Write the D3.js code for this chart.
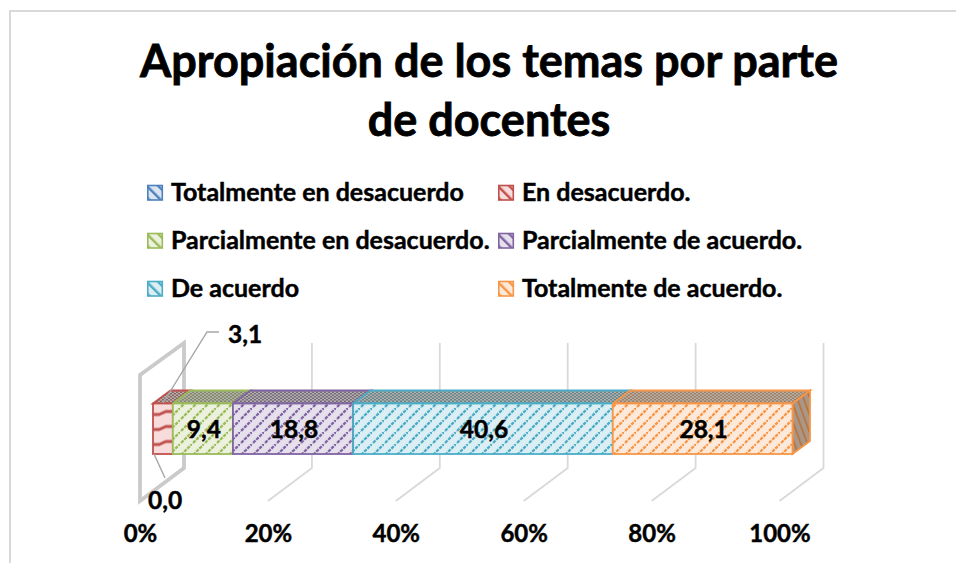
<!DOCTYPE html>
<html><head><meta charset="utf-8">
<script src="https://cdn.jsdelivr.net/npm/d3@7"></script>
<style>html,body{margin:0;padding:0;background:#fff}svg{display:block}text{font-family:Lato,sans-serif;font-weight:700;fill:#000;stroke:#000;stroke-width:.45px}</style>
</head><body><div id="c"></div>
<script>
const titleLines = ["Apropiación de los temas por parte", "de docentes"];
const categories = ["Totalmente en desacuerdo","En desacuerdo.","Parcialmente en desacuerdo.","Parcialmente de acuerdo.","De acuerdo","Totalmente de acuerdo."];
const values = [0.0, 3.1, 9.4, 18.8, 40.6, 28.1];
const labels = ["0,0","3,1","9,4","18,8","40,6","28,1"];
const colors = ["#4f81bd","#c0504d","#9bbb59","#8064a2","#4bacc6","#f79646"];
const lights = ["#dbe5f1","#f7dcdb","#ebf1dd","#e5e0ec","#dbeef4","#fde9d9"];
const ticks = [0,20,40,60,80,100];

const W=956,H=563;
const svg=d3.select("#c").append("svg").attr("width",W).attr("height",H);
const defs=svg.append("defs");
const x=d3.scaleLinear().domain([0,100]).range([153,792.5]);
const dx=17.5,dy=-13, floorDx=-13, wallDx=31;
const y0=403.5,y1=454;

colors.forEach((c,i)=>{
  const p=defs.append("pattern").attr("id","d"+i).attr("width",8).attr("height",8).attr("patternUnits","userSpaceOnUse").attr("patternTransform","rotate(-45)");
  p.append("rect").attr("width",8).attr("height",8).attr("fill",lights[i]);
  p.append("rect").attr("x",3).attr("width",2.4).attr("height",8).attr("fill",c);
  const mid=d3.interpolateRgb(c,"#6f6f6f")(0.65);
  const t=defs.append("pattern").attr("id","t"+i).attr("width",4).attr("height",3).attr("patternUnits","userSpaceOnUse");
  t.append("rect").attr("width",4).attr("height",3).attr("fill",mid);
  t.append("rect").attr("width",2).attr("height",1.5).attr("fill","#b5b1aa");
  t.append("rect").attr("x",2).attr("y",1.5).attr("width",2).attr("height",1.5).attr("fill","#b5b1aa");
  const s=defs.append("pattern").attr("id","s"+i).attr("width",6).attr("height",6).attr("patternUnits","userSpaceOnUse").attr("patternTransform","rotate(-20)");
  s.append("rect").attr("width",6).attr("height",6).attr("fill","#a9978a");
  s.append("rect").attr("width",1.6).attr("height",6).attr("fill",d3.color(c).darker(0.8));
  const l=defs.append("pattern").attr("id","l"+i).attr("width",12).attr("height",12).attr("patternUnits","userSpaceOnUse");
  l.append("rect").attr("width",12).attr("height",12).attr("fill",lights[i]);
  l.append("path").attr("d","M-2 14L14 -2").attr("stroke",c).attr("stroke-width",2.3).attr("stroke-dasharray","3.4 1");
});
const w=defs.append("pattern").attr("id","wave").attr("width",20).attr("height",15).attr("patternUnits","userSpaceOnUse").attr("x",153).attr("y",y0+2);
w.append("rect").attr("width",20).attr("height",15).attr("fill",lights[1]);
w.append("path").attr("d","M0 9H6L13 6H20").attr("fill","none").attr("stroke",colors[1]).attr("stroke-width",2.8);

svg.append("path").attr("d",`M10 ${H}V11H${W}`).attr("fill","none").attr("stroke","#d9d9d9").attr("stroke-width",2);

svg.append("g").selectAll("text").data(titleLines).join("text")
  .attr("x",489).attr("y",(d,i)=>77+i*59).attr("text-anchor","middle").attr("font-size",45).style("stroke-width","0.8px").text(d=>d);

const lx=[147,498], ly=[192,240,288];
const lg=svg.append("g").selectAll("g").data(categories).join("g")
  .attr("transform",(d,i)=>`translate(${lx[i%2]},${ly[Math.floor(i/2)]})`);
lg.append("rect").attr("x",0.8).attr("y",-6.5).attr("width",14.5).attr("height",14.5)
  .attr("fill",(d,i)=>`url(#d${i})`).attr("stroke",(d,i)=>colors[i]).attr("stroke-width",1.6);
lg.append("text").attr("x",24).attr("y",9).attr("font-size",25).text(d=>d);

const grid=svg.append("g");
const wallTop=343,wallBot=468;
ticks.slice(1).forEach(t=>{
  const bx=x(t)+wallDx;
  grid.append("path").attr("d",`M${bx} ${wallTop}V${wallBot}L${x(t)+floorDx} 501`).attr("fill","none").attr("stroke","#d9d9d9").attr("stroke-width",1.8);
});
const bx0=x(0)+wallDx, fx0=x(0)+floorDx;
grid.append("path").attr("d",`M${fx0} 501V375L${bx0} ${wallTop}V${wallBot}Z`).attr("fill","none").attr("stroke","#cacaca").attr("stroke-width",3.8);

let cum=0;
const segs=values.map((v,i)=>{const s={i,v,a:cum,b:cum+v};cum+=v;return s;});
const scale=d3.scaleLinear().domain([0,cum]).range([0,100]);
const X=d=>x(scale(d));
const bars=svg.append("g");
segs.filter(s=>s.v>0).forEach(s=>{
  const a=X(s.a),b=X(s.b);
  bars.append("path").attr("d",`M${a} ${y0}L${a+dx} ${y0+dy}H${b+dx}L${b} ${y0}Z`)
    .attr("fill",`url(#t${s.i})`).attr("stroke",colors[s.i]).attr("stroke-width",1.8);
});
{const s=segs[5],b=X(s.b);
 bars.append("path").attr("d",`M${b} ${y0}L${b+dx} ${y0+dy}V${y1+dy}L${b} ${y1}Z`)
   .attr("fill",`url(#s5)`).attr("stroke",colors[5]).attr("stroke-width",1.8);}
segs.filter(s=>s.v>0).forEach(s=>{
  const a=X(s.a),b=X(s.b);
  bars.append("rect").attr("x",a).attr("y",y0).attr("width",b-a).attr("height",y1-y0)
    .attr("fill",s.i==1?"url(#wave)":`url(#l${s.i})`).attr("stroke",colors[s.i]).attr("stroke-width",1.8);
});

segs.slice(2).forEach(s=>{
  svg.append("text").attr("x",(X(s.a)+X(s.b))/2+1).attr("y",438).attr("text-anchor","middle").attr("font-size",24.5).text(labels[s.i]);
});
svg.append("path").attr("d","M219 332H207L163 403").attr("fill","none").attr("stroke","#a6a6a6").attr("stroke-width",1.4);
svg.append("path").attr("d","M154 454L165 478").attr("fill","none").attr("stroke","#a6a6a6").attr("stroke-width",1.4);
svg.append("text").attr("x",228).attr("y",343).attr("font-size",24.5).text(labels[1]);
svg.append("text").attr("x",148).attr("y",509).attr("font-size",24.5).text(labels[0]);

svg.append("g").selectAll("text").data(ticks).join("text")
  .attr("x",d=>x(d)+floorDx+0.5).attr("y",542).attr("text-anchor","middle").attr("font-size",24).text(d=>d+"%");
</script></body></html>
